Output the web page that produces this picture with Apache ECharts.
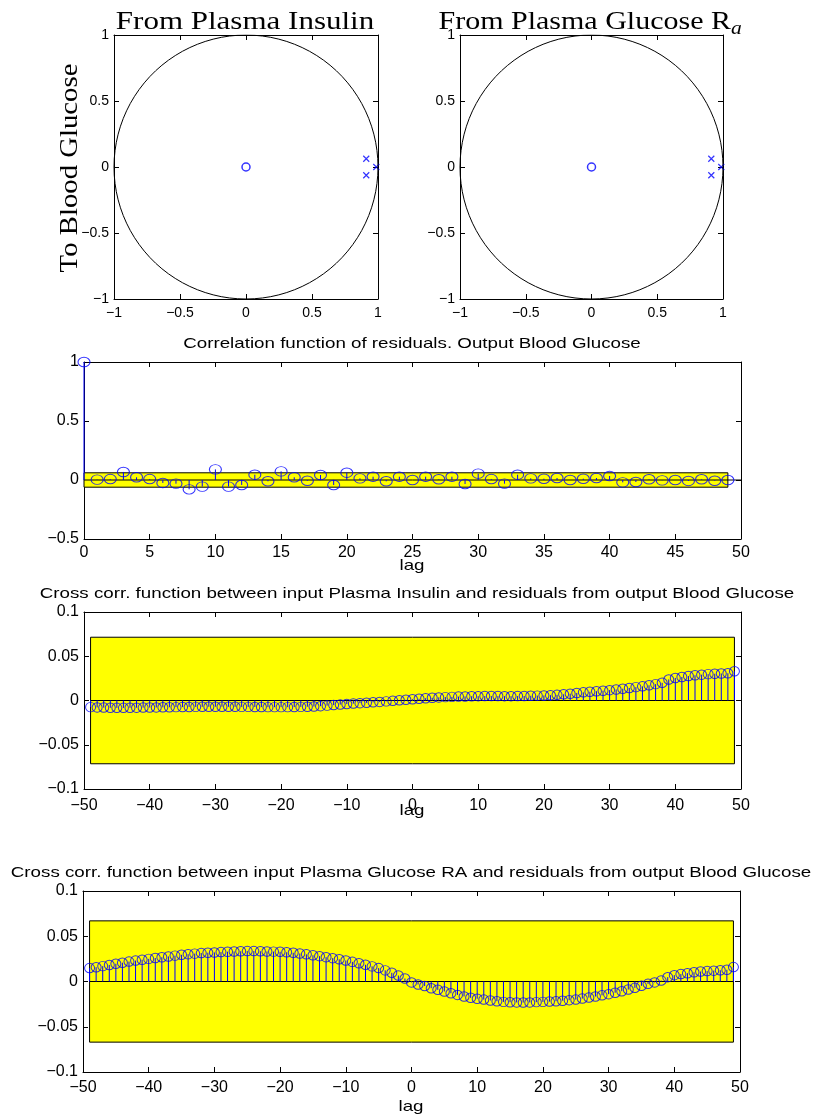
<!DOCTYPE html>
<html>
<head>
<meta charset="utf-8">
<script src="https://cdn.jsdelivr.net/npm/echarts@6/dist/echarts.min.js"></script>
<style>html,body{margin:0;padding:0;background:#fff;}#c{width:819px;height:1116px;}</style>
</head>
<body>
<div id="c"></div>
<script>
// ---------- DATA ----------
// Pole-zero maps (both panels identical)
const zerosX = [0];
const zerosY = [0];
const polesX = [0.911, 0.911, 0.987];
const polesY = [0.0625, -0.0625, 0];

// Autocorrelation of residuals, lags 0..49
const acLags = [0,1,2,3,4,5,6,7,8,9,10,11,12,13,14,15,16,17,18,19,20,21,22,23,24,25,26,27,28,29,30,31,32,33,34,35,36,37,38,39,40,41,42,43,44,45,46,47,48,49];
const acVals = [1.0,0.003,0.008,0.068,0.023,0.008,-0.025,-0.031,-0.079,-0.056,0.090,-0.056,-0.042,0.045,-0.011,0.073,0.023,-0.006,0.042,-0.042,0.062,0.014,0.028,-0.011,0.028,0.0,0.028,0.006,0.028,-0.034,0.054,0.008,-0.031,0.045,0.014,0.011,0.017,0.0,0.011,0.017,0.034,-0.020,-0.017,0.006,-0.003,0.0,-0.008,0.006,-0.006,0.0];
const acBand = 0.061;

// Cross correlation lags -49..49
const ccLags = [-49,-48,-47,-46,-45,-44,-43,-42,-41,-40,-39,-38,-37,-36,-35,-34,-33,-32,-31,-30,-29,-28,-27,-26,-25,-24,-23,-22,-21,-20,-19,-18,-17,-16,-15,-14,-13,-12,-11,-10,-9,-8,-7,-6,-5,-4,-3,-2,-1,0,1,2,3,4,5,6,7,8,9,10,11,12,13,14,15,16,17,18,19,20,21,22,23,24,25,26,27,28,29,30,31,32,33,34,35,36,37,38,39,40,41,42,43,44,45,46,47,48,49];
const cc1Vals = [-0.0075,-0.0078,-0.0080,-0.0082,-0.0083,-0.0083,-0.0082,-0.0081,-0.0080,-0.0079,-0.0078,-0.0077,-0.0076,-0.0075,-0.0074,-0.0073,-0.0072,-0.0071,-0.0071,-0.0070,-0.0070,-0.0071,-0.0071,-0.0072,-0.0072,-0.0073,-0.0074,-0.0075,-0.0075,-0.0075,-0.0075,-0.0074,-0.0072,-0.0070,-0.0068,-0.0064,-0.0058,-0.0052,-0.0046,-0.0040,-0.0035,-0.0030,-0.0026,-0.0021,-0.0016,-0.0010,-0.0004,0.0002,0.0008,0.0014,0.0020,0.0026,0.0031,0.0035,0.0038,0.0041,0.0044,0.0046,0.0048,0.0049,0.0050,0.0050,0.0050,0.0049,0.0049,0.0050,0.0051,0.0053,0.0055,0.0057,0.0060,0.0064,0.0070,0.0077,0.0085,0.0092,0.0099,0.0105,0.0111,0.0117,0.0125,0.0133,0.0142,0.0151,0.0160,0.0172,0.0185,0.0200,0.0238,0.0255,0.0266,0.0276,0.0285,0.0292,0.0298,0.0302,0.0305,0.0308,0.0330];
const cc1Band = 0.0715;
const cc2Vals = [0.0148,0.0158,0.0170,0.0183,0.0196,0.0208,0.0220,0.0231,0.0241,0.0250,0.0259,0.0268,0.0277,0.0286,0.0295,0.0302,0.0308,0.0314,0.0318,0.0321,0.0325,0.0329,0.0332,0.0334,0.0336,0.0336,0.0334,0.0332,0.0330,0.0328,0.0323,0.0317,0.0310,0.0300,0.0290,0.0280,0.0269,0.0258,0.0245,0.0232,0.0217,0.0201,0.0185,0.0167,0.0148,0.0123,0.0096,0.0066,0.0033,-0.0010,-0.0033,-0.0050,-0.0074,-0.0092,-0.0110,-0.0130,-0.0148,-0.0165,-0.0180,-0.0190,-0.0200,-0.0210,-0.0218,-0.0225,-0.0229,-0.0231,-0.0232,-0.0231,-0.0228,-0.0225,-0.0222,-0.0218,-0.0212,-0.0206,-0.0200,-0.0189,-0.0178,-0.0166,-0.0153,-0.0140,-0.0124,-0.0107,-0.0089,-0.0070,-0.0048,-0.0026,-0.0010,0.0010,0.0048,0.0070,0.0082,0.0092,0.0102,0.0110,0.0115,0.0120,0.0124,0.0130,0.0159];
const cc2Band = 0.067;

// Titles
const pzTitle1 = 'From Plasma Insulin';
const pzTitle2 = 'From Plasma Glucose R';
const pzTitle2Sub = 'a';
const pzYLabel = 'To Blood Glucose';
const acTitle = 'Correlation function of residuals. Output Blood Glucose';
const cc1Title = 'Cross corr. function between input Plasma Insulin and residuals from output Blood Glucose';
const cc2Title = 'Cross corr. function between input Plasma Glucose RA and residuals from output Blood Glucose';
const lagLabel = 'lag';

// ---------- CHART ----------
const chart = echarts.init(document.getElementById('c'), null, {renderer: 'canvas'});
const SANS = '"Liberation Sans", Arial, Helvetica, sans-serif';
const SERIF = '"Liberation Serif", "DejaVu Serif", serif';
const BLUE = '#0000ff';

function fmt(v) {
  let s = String(Math.round(v * 1000) / 1000);
  return s.replace('-', '\u2212');
}

const grids = [
  {left: 114, top: 35, width: 264, height: 264},
  {left: 460, top: 35, width: 263, height: 264},
  {left: 84, top: 362, width: 657, height: 177},
  {left: 84, top: 612, width: 657, height: 177},
  {left: 83, top: 891, width: 657, height: 181}
];

const xAxes = [], yAxes = [];
function addAxes(gi, xr, yr, fs, xMargin) {
  const common = (mn, mx, it) => ({
    type: 'value', gridIndex: gi, min: mn, max: mx, interval: it,
    axisLine: {show: true, onZero: false, lineStyle: {color: '#000', width: 1}},
    axisTick: {show: true, inside: true, length: 5, lineStyle: {color: '#000', width: 1}},
    splitLine: {show: false}
  });
  const xb = Object.assign(common(xr[0], xr[1], xr[2]), {position: 'bottom',
    axisLabel: {fontSize: fs, color: '#000', fontFamily: SANS, margin: xMargin, formatter: fmt}});
  const xt = Object.assign(common(xr[0], xr[1], xr[2]), {position: 'top', axisLabel: {show: false}});
  const yl = Object.assign(common(yr[0], yr[1], yr[2]), {position: 'left',
    axisLabel: {fontSize: fs, color: '#000', fontFamily: SANS, margin: 5, formatter: fmt}});
  const yri = Object.assign(common(yr[0], yr[1], yr[2]), {position: 'right', axisLabel: {show: false}});
  const xi = xAxes.length; xAxes.push(xb, xt);
  const yi = yAxes.length; yAxes.push(yl, yri);
  return {x: xi, y: yi};
}

const ax0 = addAxes(0, [-1, 1, 0.5], [-1, 1, 0.5], 14, 7);
const ax1 = addAxes(1, [-1, 1, 0.5], [-1, 1, 0.5], 14, 7);
const ax2 = addAxes(2, [0, 50, 5], [-0.5, 1, 0.5], 16, 6);
const ax3 = addAxes(3, [-50, 50, 10], [-0.1, 0.1, 0.05], 16, 9);
const ax4 = addAxes(4, [-50, 50, 10], [-0.1, 0.1, 0.05], 16, 8);

// unit circle reference curve
const unitCircle = [];
for (let k = 0; k <= 100; k++) {
  const t = 2 * Math.PI * k / 100;
  unitCircle.push([Math.cos(t), Math.sin(t)]);
}

const series = [];
function pzSeries(ax) {
  series.push({type: 'line', xAxisIndex: ax.x, yAxisIndex: ax.y, data: unitCircle, showSymbol: false,
    lineStyle: {color: '#000', width: 1}, silent: true, animation: false});
  series.push({type: 'scatter', xAxisIndex: ax.x, yAxisIndex: ax.y,
    data: zerosX.map((v, i) => [v, zerosY[i]]), symbol: 'circle', symbolSize: 8,
    itemStyle: {color: 'rgba(0,0,0,0)', borderColor: BLUE, borderWidth: 1.5}, animation: false});
  series.push({type: 'scatter', xAxisIndex: ax.x, yAxisIndex: ax.y,
    data: polesX.map((v, i) => [v, polesY[i]]), symbol: 'path://M0,0L10,10M10,0L0,10', symbolSize: 6,
    itemStyle: {color: 'none', borderColor: BLUE, borderWidth: 1.2}, animation: false});
}
pzSeries(ax0);
pzSeries(ax1);

function bandSeries(ax, x0, x1, band, zx0, zx1) {
  series.push({type: 'custom', xAxisIndex: ax.x, yAxisIndex: ax.y, z: 1, silent: true, animation: false,
    data: [[x0, x1, -band, band, zx0, zx1]],
    encode: {x: [0, 1], y: [2, 3]},
    renderItem: function (params, api) {
      const a = api.coord([api.value(0), api.value(3)]);
      const b = api.coord([api.value(1), api.value(2)]);
      const z0 = api.coord([api.value(4), 0]);
      const z1 = api.coord([api.value(5), 0]);
      return {type: 'group', children: [
        {type: 'rect', shape: {x: a[0], y: a[1], width: b[0] - a[0], height: b[1] - a[1]},
          style: {fill: '#ffff00', stroke: '#000', lineWidth: 1}},
        {type: 'line', shape: {x1: z0[0], y1: z0[1], x2: z1[0], y2: z1[1]},
          style: {stroke: '#000', lineWidth: 1}}
      ]};
    }});
}
function stemSeries(ax, lags, vals, size) {
  const data = lags.map((l, i) => [l, vals[i]]);
  series.push({type: 'custom', xAxisIndex: ax.x, yAxisIndex: ax.y, z: 2, silent: true, animation: false,
    data: data,
    renderItem: function (params, api) {
      const p0 = api.coord([api.value(0), 0]);
      const p1 = api.coord([api.value(0), api.value(1)]);
      return {type: 'line', shape: {x1: p0[0], y1: p0[1], x2: p1[0], y2: p1[1]},
        style: {stroke: BLUE, lineWidth: 1}};
    }});
  series.push({type: 'scatter', xAxisIndex: ax.x, yAxisIndex: ax.y, z: 3, animation: false,
    data: data, symbol: 'circle', symbolSize: size,
    itemStyle: {color: 'rgba(0,0,0,0)', borderColor: BLUE, borderWidth: 1}});
}

bandSeries(ax2, 0, 49, acBand, 0, 50);
stemSeries(ax2, acLags, acVals, [12, 9.5]);
bandSeries(ax3, -49, 49, cc1Band, -49, 49);
stemSeries(ax3, ccLags, cc1Vals, [10, 9.5]);
bandSeries(ax4, -49, 49, cc2Band, -49, 49);
stemSeries(ax4, ccLags, cc2Vals, [10, 9.5]);

// text elements (horizontally stretched like the reference raster)
function txt(text, x, y, font, sx, align, extra) {
  return Object.assign({type: 'text', silent: true, z: 10, x: x, y: y, scaleX: sx || 1, scaleY: 1,
    style: {text: text, x: 0, y: 0, font: font, fill: '#000', align: align || 'center', verticalAlign: 'middle'}}, extra || {});
}

const SX = 1.25;
const graphic = [
  txt(pzTitle1, 245, 22, '25px ' + SERIF, 1.24),
  txt(pzTitle2, 731, 22, '25px ' + SERIF, 1.2, 'right'),
  txt(pzTitle2Sub, 731, 29, 'italic 18px ' + SERIF, 1.2, 'left'),
  txt(pzYLabel, 70, 168, '25px ' + SERIF, 1.15, 'center', {rotation: Math.PI / 2}),
  txt(acTitle, 412, 344, '15px ' + SANS, SX),
  txt(lagLabel, 412, 566, '15px ' + SANS, SX),
  txt(cc1Title, 417, 594, '15px ' + SANS, SX),
  txt(lagLabel, 412, 811, '15px ' + SANS, SX),
  txt(cc2Title, 411, 873, '15px ' + SANS, SX),
  txt(lagLabel, 411, 1107, '15px ' + SANS, SX)
];

chart.setOption({
  backgroundColor: '#fff',
  animation: false,
  grid: grids,
  xAxis: xAxes,
  yAxis: yAxes,
  series: series,
  graphic: graphic
});
</script>
</body>
</html>
